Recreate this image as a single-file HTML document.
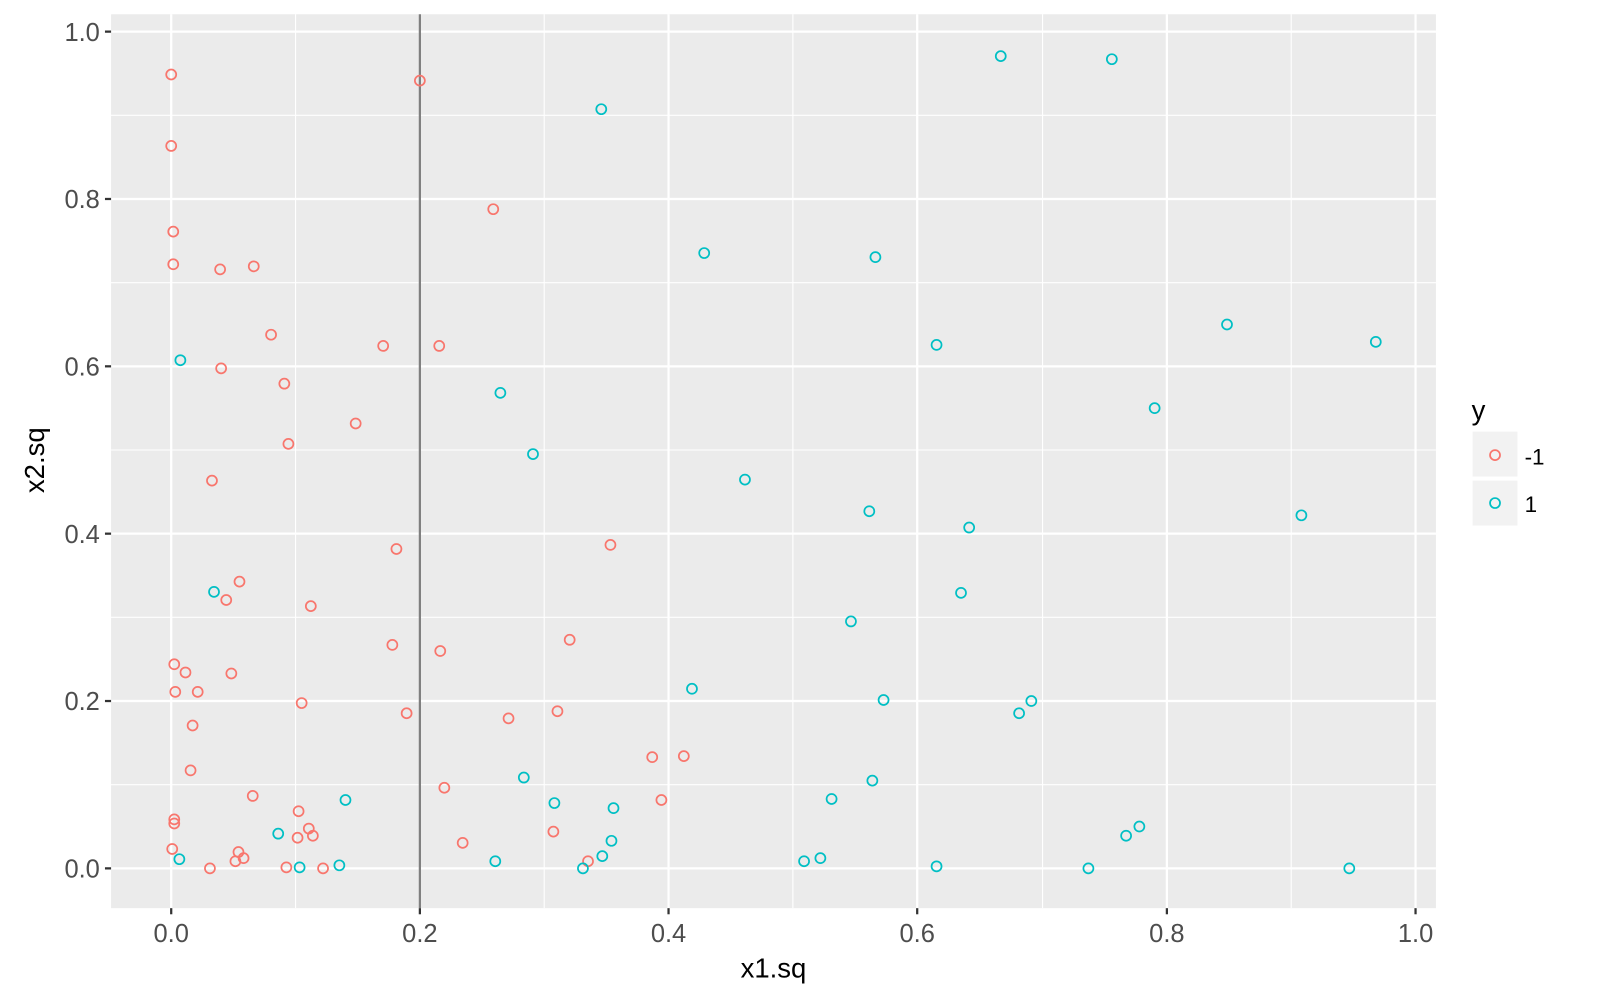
<!DOCTYPE html>
<html><head><meta charset="utf-8"><style>html,body{margin:0;padding:0;background:#fff}svg{display:block}</style></head>
<body>
<svg width="1600" height="1000" viewBox="0 0 1570 980" preserveAspectRatio="none" xmlns="http://www.w3.org/2000/svg" font-family="Liberation Sans, sans-serif">
<rect x="109" y="14" width="1300" height="876" fill="#ebebeb"/>
<g stroke="#fff" stroke-width="1.1">
<line x1="290" y1="14" x2="290" y2="890"/><line x1="534" y1="14" x2="534" y2="890"/><line x1="778" y1="14" x2="778" y2="890"/><line x1="1023" y1="14" x2="1023" y2="890"/><line x1="1267" y1="14" x2="1267" y2="890"/>
<line x1="109" y1="769" x2="1409" y2="769"/><line x1="109" y1="605" x2="1409" y2="605"/><line x1="109" y1="441" x2="1409" y2="441"/><line x1="109" y1="277" x2="1409" y2="277"/><line x1="109" y1="113" x2="1409" y2="113"/>
</g>
<g stroke="#fff" stroke-width="2.2">
<line x1="168" y1="14" x2="168" y2="890"/><line x1="412" y1="14" x2="412" y2="890"/><line x1="656" y1="14" x2="656" y2="890"/><line x1="900" y1="14" x2="900" y2="890"/><line x1="1145" y1="14" x2="1145" y2="890"/><line x1="1389" y1="14" x2="1389" y2="890"/>
<line x1="109" y1="851" x2="1409" y2="851"/><line x1="109" y1="687" x2="1409" y2="687"/><line x1="109" y1="523" x2="1409" y2="523"/><line x1="109" y1="359" x2="1409" y2="359"/><line x1="109" y1="195" x2="1409" y2="195"/><line x1="109" y1="31" x2="1409" y2="31"/>
</g>
<line x1="412" y1="14" x2="412" y2="890" stroke="#7f7f7f" stroke-width="2.2"/>
<g fill="none" stroke="#f8766d" stroke-width="1.7">
<circle cx="168" cy="73" r="4.9"/><circle cx="168" cy="143" r="4.9"/><circle cx="170" cy="227" r="4.9"/><circle cx="170" cy="259" r="4.9"/><circle cx="216" cy="264" r="4.9"/><circle cx="249" cy="261" r="4.9"/><circle cx="266" cy="328" r="4.9"/><circle cx="217" cy="361" r="4.9"/><circle cx="279" cy="376" r="4.9"/><circle cx="283" cy="435" r="4.9"/><circle cx="349" cy="415" r="4.9"/><circle cx="376" cy="339" r="4.9"/><circle cx="431" cy="339" r="4.9"/><circle cx="412" cy="79" r="4.9"/><circle cx="484" cy="205" r="4.9"/><circle cx="208" cy="471" r="4.9"/><circle cx="235" cy="570" r="4.9"/><circle cx="222" cy="588" r="4.9"/><circle cx="305" cy="594" r="4.9"/><circle cx="389" cy="538" r="4.9"/><circle cx="385" cy="632" r="4.9"/><circle cx="432" cy="638" r="4.9"/><circle cx="171" cy="651" r="4.9"/><circle cx="182" cy="659" r="4.9"/><circle cx="227" cy="660" r="4.9"/><circle cx="172" cy="678" r="4.9"/><circle cx="194" cy="678" r="4.9"/><circle cx="189" cy="711" r="4.9"/><circle cx="296" cy="689" r="4.9"/><circle cx="399" cy="699" r="4.9"/><circle cx="187" cy="755" r="4.9"/><circle cx="248" cy="780" r="4.9"/><circle cx="436" cy="772" r="4.9"/><circle cx="171" cy="803" r="4.9"/><circle cx="171" cy="807" r="4.9"/><circle cx="293" cy="795" r="4.9"/><circle cx="303" cy="812" r="4.9"/><circle cx="307" cy="819" r="4.9"/><circle cx="292" cy="821" r="4.9"/><circle cx="169" cy="832" r="4.9"/><circle cx="234" cy="835" r="4.9"/><circle cx="239" cy="841" r="4.9"/><circle cx="231" cy="844" r="4.9"/><circle cx="206" cy="851" r="4.9"/><circle cx="281" cy="850" r="4.9"/><circle cx="317" cy="851" r="4.9"/><circle cx="454" cy="826" r="4.9"/><circle cx="543" cy="815" r="4.9"/><circle cx="577" cy="844" r="4.9"/><circle cx="499" cy="704" r="4.9"/><circle cx="547" cy="697" r="4.9"/><circle cx="559" cy="627" r="4.9"/><circle cx="599" cy="534" r="4.9"/><circle cx="640" cy="742" r="4.9"/><circle cx="671" cy="741" r="4.9"/><circle cx="649" cy="784" r="4.9"/>
</g>
<g fill="none" stroke="#00bfc4" stroke-width="1.7">
<circle cx="177" cy="353" r="4.9"/><circle cx="210" cy="580" r="4.9"/><circle cx="176" cy="842" r="4.9"/><circle cx="273" cy="817" r="4.9"/><circle cx="294" cy="850" r="4.9"/><circle cx="333" cy="848" r="4.9"/><circle cx="339" cy="784" r="4.9"/><circle cx="590" cy="107" r="4.9"/><circle cx="491" cy="385" r="4.9"/><circle cx="523" cy="445" r="4.9"/><circle cx="691" cy="248" r="4.9"/><circle cx="859" cy="252" r="4.9"/><circle cx="919" cy="338" r="4.9"/><circle cx="731" cy="470" r="4.9"/><circle cx="853" cy="501" r="4.9"/><circle cx="951" cy="517" r="4.9"/><circle cx="943" cy="581" r="4.9"/><circle cx="835" cy="609" r="4.9"/><circle cx="867" cy="686" r="4.9"/><circle cx="1000" cy="699" r="4.9"/><circle cx="1012" cy="687" r="4.9"/><circle cx="679" cy="675" r="4.9"/><circle cx="514" cy="762" r="4.9"/><circle cx="544" cy="787" r="4.9"/><circle cx="602" cy="792" r="4.9"/><circle cx="600" cy="824" r="4.9"/><circle cx="591" cy="839" r="4.9"/><circle cx="572" cy="851" r="4.9"/><circle cx="486" cy="844" r="4.9"/><circle cx="816" cy="783" r="4.9"/><circle cx="856" cy="765" r="4.9"/><circle cx="789" cy="844" r="4.9"/><circle cx="805" cy="841" r="4.9"/><circle cx="919" cy="849" r="4.9"/><circle cx="982" cy="55" r="4.9"/><circle cx="1091" cy="58" r="4.9"/><circle cx="1204" cy="318" r="4.9"/><circle cx="1350" cy="335" r="4.9"/><circle cx="1133" cy="400" r="4.9"/><circle cx="1277" cy="505" r="4.9"/><circle cx="1118" cy="810" r="4.9"/><circle cx="1105" cy="819" r="4.9"/><circle cx="1068" cy="851" r="4.9"/><circle cx="1324" cy="851" r="4.9"/>
</g>
<g stroke="#333" stroke-width="2.2">
<line x1="103" y1="851" x2="109" y2="851"/><line x1="103" y1="687" x2="109" y2="687"/><line x1="103" y1="523" x2="109" y2="523"/><line x1="103" y1="359" x2="109" y2="359"/><line x1="103" y1="195" x2="109" y2="195"/><line x1="103" y1="31" x2="109" y2="31"/>
<line x1="168" y1="890" x2="168" y2="896"/><line x1="412" y1="890" x2="412" y2="896"/><line x1="656" y1="890" x2="656" y2="896"/><line x1="900" y1="890" x2="900" y2="896"/><line x1="1145" y1="890" x2="1145" y2="896"/><line x1="1389" y1="890" x2="1389" y2="896"/>
</g>
<g fill="#4d4d4d" font-size="25" text-anchor="end">
<text x="98" y="860">0.0</text><text x="98" y="696">0.2</text><text x="98" y="532">0.4</text><text x="98" y="368">0.6</text><text x="98" y="204">0.8</text><text x="98" y="40">1.0</text>
</g>
<g fill="#4d4d4d" font-size="25" text-anchor="middle">
<text x="168" y="923">0.0</text><text x="412" y="923">0.2</text><text x="656" y="923">0.4</text><text x="900" y="923">0.6</text><text x="1145" y="923">0.8</text><text x="1389" y="923">1.0</text>
</g>
<text x="759" y="958" font-size="27" text-anchor="middle" fill="#000">x1.sq</text>
<text transform="translate(43,451) rotate(-90)" font-size="27" text-anchor="middle" fill="#000">x2.sq</text>
<text x="1444" y="411" font-size="27" fill="#000">y</text>
<rect x="1445" y="423" width="44" height="44" fill="#f2f2f2"/>
<rect x="1445" y="471" width="44" height="44" fill="#f2f2f2"/>
<circle cx="1467" cy="446" r="4.9" fill="none" stroke="#f8766d" stroke-width="1.7"/>
<circle cx="1467" cy="493" r="4.9" fill="none" stroke="#00bfc4" stroke-width="1.7"/>
<text x="1496" y="455" font-size="22" fill="#000">-1</text>
<text x="1496" y="502" font-size="22" fill="#000">1</text>
</svg>
</body></html>
